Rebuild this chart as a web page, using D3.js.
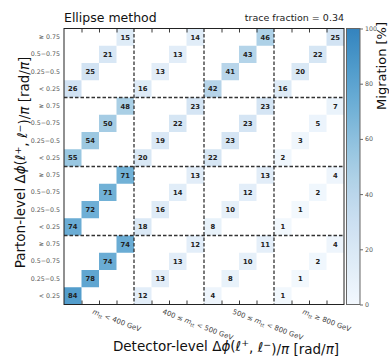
<!DOCTYPE html>
<html>
<head>
<meta charset="utf-8">
<script src="https://cdn.jsdelivr.net/npm/d3@7"></script>
<style>
  body { margin: 0; background: #fff; }
  text { font-family: "DejaVu Sans", sans-serif; }
</style>
</head>
<body>
<svg id="chart" width="389" height="358"></svg>
<script>
// m_tt bins (low to high) and Δϕ/π bins within each m_tt bin (low to high)
const massBins = ["< 400 GeV", "400 ≤ m < 500 GeV", "500 ≤ m < 800 GeV", "≥ 800 GeV"];
const dphiBins = ["< 0.25", "0.25\u22120.5", "0.5\u22120.75", "\u2265 0.75"];

// Migration [%] per parton-level m_tt bin.
// Each inner array is one detector-level m_tt bin, listing the diagonal
// Δϕ cells from "< 0.25" up to "≥ 0.75".
const partonLt400    = [[84, 78, 74, 74], [12, 13, 13, 12], [4, 8, 10, 11],  [1, 1, 2, 4]];
const parton400to500 = [[74, 72, 71, 71], [18, 16, 14, 13], [8, 10, 12, 13], [1, 1, 2, 4]];
const parton500to800 = [[55, 54, 50, 48], [20, 19, 22, 23], [22, 23, 23, 23], [2, 3, 5, 7]];
const partonGe800    = [[26, 25, 21, 15], [16, 13, 13, 14], [42, 41, 43, 46], [16, 20, 22, 25]];

const colorbarTicks = [0, 20, 40, 60, 80, 100];
const traceFraction = 0.34;

const partonBlocks = [partonLt400, parton400to500, parton500to800, partonGe800];
const nPhi = dphiBins.length;
const nBins = massBins.length * nPhi;

const cells = [];
partonBlocks.forEach((block, p) => {
  block.forEach((vals, d) => {
    vals.forEach((v, k) => {
      cells.push({ row: p * nPhi + k, col: d * nPhi + k, value: v });
    });
  });
});

const plot = { left: 64, right: 344, top: 28.5, bottom: 304.5 };
const svg = d3.select("#chart");

const x = d3.scaleBand().domain(d3.range(nBins)).range([plot.left, plot.right]);
const y = d3.scaleBand().domain(d3.range(nBins)).range([plot.bottom, plot.top]);
const xLin = d3.scaleLinear().domain([0, nBins]).range([plot.left, plot.right]);
const yLin = d3.scaleLinear().domain([0, nBins]).range([plot.bottom, plot.top]);

const color = d3.scaleSequential(t => d3.interpolateBlues(0.02 + t * 0.66)).domain([0, 100]);

// heatmap cells
const g = svg.append("g");
g.selectAll("rect.cell").data(cells).join("rect")
  .attr("class", "cell")
  .attr("x", d => x(d.col))
  .attr("y", d => y(d.row))
  .attr("width", x.bandwidth())
  .attr("height", y.bandwidth())
  .attr("fill", d => color(d.value));

g.selectAll("text.val").data(cells).join("text")
  .attr("class", "val")
  .attr("x", d => x(d.col) + x.bandwidth() / 2)
  .attr("y", d => y(d.row) + y.bandwidth() / 2)
  .attr("dy", "0.35em")
  .attr("text-anchor", "middle")
  .attr("font-size", 6.8)
  .attr("font-weight", "bold")
  .attr("fill", "#222")
  .text(d => d.value);

// block separators
const seps = d3.range(1, massBins.length).map(i => i * nPhi);
g.selectAll("line.vsep").data(seps).join("line")
  .attr("x1", d => xLin(d)).attr("x2", d => xLin(d))
  .attr("y1", plot.top).attr("y2", plot.bottom)
  .attr("stroke", "#333").attr("stroke-width", 1.3).attr("stroke-dasharray", "3.5,2");
g.selectAll("line.hsep").data(seps).join("line")
  .attr("y1", d => yLin(d)).attr("y2", d => yLin(d))
  .attr("x1", plot.left).attr("x2", plot.right)
  .attr("stroke", "#333").attr("stroke-width", 1.3).attr("stroke-dasharray", "3.5,2");

// inward minor ticks on top and bottom
const minor = d3.range(1, nBins).filter(i => i % nPhi !== 0);
const bottomAxis = svg.append("g")
  .attr("transform", `translate(0,${plot.bottom})`)
  .call(d3.axisBottom(xLin).tickValues(minor).tickSize(-4).tickFormat(""));
const topAxis = svg.append("g")
  .attr("transform", `translate(0,${plot.top})`)
  .call(d3.axisTop(xLin).tickValues(minor).tickSize(-4).tickFormat(""));
[bottomAxis, topAxis].forEach(a => {
  a.select(".domain").remove();
  a.selectAll(".tick line").attr("stroke", "#222").attr("stroke-width", 0.9);
});

// Δϕ bin labels on the left
const leftAxis = svg.append("g")
  .attr("transform", `translate(${plot.left},0)`)
  .call(d3.axisLeft(y).tickSize(0).tickPadding(4).tickFormat(i => dphiBins[i % nPhi]));
leftAxis.select(".domain").remove();
leftAxis.selectAll("text").attr("font-size", 6.3).attr("fill", "#555")
  .attr("font-family", "DejaVu Sans, sans-serif");

// frame
svg.append("rect")
  .attr("x", plot.left).attr("y", plot.top)
  .attr("width", plot.right - plot.left).attr("height", plot.bottom - plot.top)
  .attr("fill", "none").attr("stroke", "#222").attr("stroke-width", 1);

// m_tt bin labels below the axis: [text, kind] with kind i = italic, s = subscript
const massLabelParts = [
  [["m", "i"], ["tt", "s"], [" < 400 GeV", ""]],
  [["400 \u2264 ", ""], ["m", "i"], ["tt", "s"], [" < 500 GeV", ""]],
  [["500 \u2264 ", ""], ["m", "i"], ["tt", "s"], [" < 800 GeV", ""]],
  [["m", "i"], ["tt", "s"], [" \u2265 800 GeV", ""]]
];
massLabelParts.forEach((parts, i) => {
  const cx = xLin(i * nPhi + nPhi / 2) - 7;
  const t = svg.append("text")
    .attr("transform", `translate(${cx},${plot.bottom + 9}) rotate(21)`)
    .attr("font-size", 7).attr("fill", "#444");
  let prevKind = "";
  parts.forEach(([s, kind]) => {
    const ts = t.append("tspan").text(s);
    if (kind === "i") ts.attr("font-style", "italic");
    if (kind === "s") ts.attr("font-size", 5).attr("dy", 1.8);
    else if (prevKind === "s") ts.attr("dy", -1.8);
    prevKind = kind;
  });
});

// titles
svg.append("text").attr("x", plot.left).attr("y", 22)
  .attr("font-size", 12.5).attr("fill", "#111").text("Ellipse method");
svg.append("text").attr("x", plot.right).attr("y", 21)
  .attr("text-anchor", "end").attr("font-size", 9.5).attr("fill", "#222")
  .text(`trace fraction = ${traceFraction}`);

// axis titles with Δϕ(ℓ⁺, ℓ⁻)/π
function dphiTitle(sel, prefix) {
  sel.append("tspan").text(prefix + " \u0394");
  sel.append("tspan").attr("font-style", "italic").text("\u03d5");
  sel.append("tspan").text("(");
  sel.append("tspan").attr("font-style", "italic").text("\u2113");
  sel.append("tspan").attr("font-size", "0.7em").attr("dy", "-0.45em").text("+");
  sel.append("tspan").attr("dy", "0.45em").text(", ");
  sel.append("tspan").attr("font-style", "italic").text("\u2113");
  sel.append("tspan").attr("font-size", "0.7em").attr("dy", "-0.45em").text("\u2212");
  sel.append("tspan").attr("dy", "0.45em").text(")/");
  sel.append("tspan").attr("font-style", "italic").text("\u03c0");
  sel.append("tspan").text(" [rad/");
  sel.append("tspan").attr("font-style", "italic").text("\u03c0");
  sel.append("tspan").text("]");
}
svg.append("text")
  .attr("x", 226).attr("y", 350.5)
  .attr("text-anchor", "middle").attr("font-size", 13.5).attr("fill", "#111")
  .call(dphiTitle, "Detector-level");
svg.append("text")
  .attr("transform", `translate(25,${(plot.top + plot.bottom) / 2 - 4}) rotate(-90)`)
  .attr("text-anchor", "middle").attr("font-size", 13.5).attr("fill", "#111")
  .call(dphiTitle, "Parton-level");

// colorbar
const cb = { x: 346.5, w: 13.5 };
const cbScale = d3.scaleLinear().domain([0, 100]).range([plot.bottom, plot.top]);
const grad = svg.append("defs").append("linearGradient")
  .attr("id", "cbgrad").attr("x1", 0).attr("x2", 0).attr("y1", 1).attr("y2", 0);
grad.selectAll("stop").data(d3.range(0, 101, 5)).join("stop")
  .attr("offset", d => d / 100)
  .attr("stop-color", d => color(d));
svg.append("rect")
  .attr("x", cb.x).attr("y", plot.top)
  .attr("width", cb.w).attr("height", plot.bottom - plot.top)
  .attr("fill", "url(#cbgrad)").attr("stroke", "#666").attr("stroke-width", 1);
const cbAxis = svg.append("g")
  .attr("transform", `translate(${cb.x + cb.w},0)`)
  .call(d3.axisRight(cbScale).tickValues(colorbarTicks).tickSize(3).tickPadding(2));
cbAxis.select(".domain").remove();
cbAxis.selectAll(".tick line").attr("stroke", "#666");
cbAxis.selectAll("text").attr("font-size", 6.3).attr("fill", "#555")
  .attr("font-family", "DejaVu Sans, sans-serif");
svg.append("text")
  .attr("transform", `translate(385.5,22) rotate(-90)`)
  .attr("text-anchor", "end").attr("font-size", 13).attr("fill", "#111")
  .text("Migration [%]");
</script>
</body>
</html>
